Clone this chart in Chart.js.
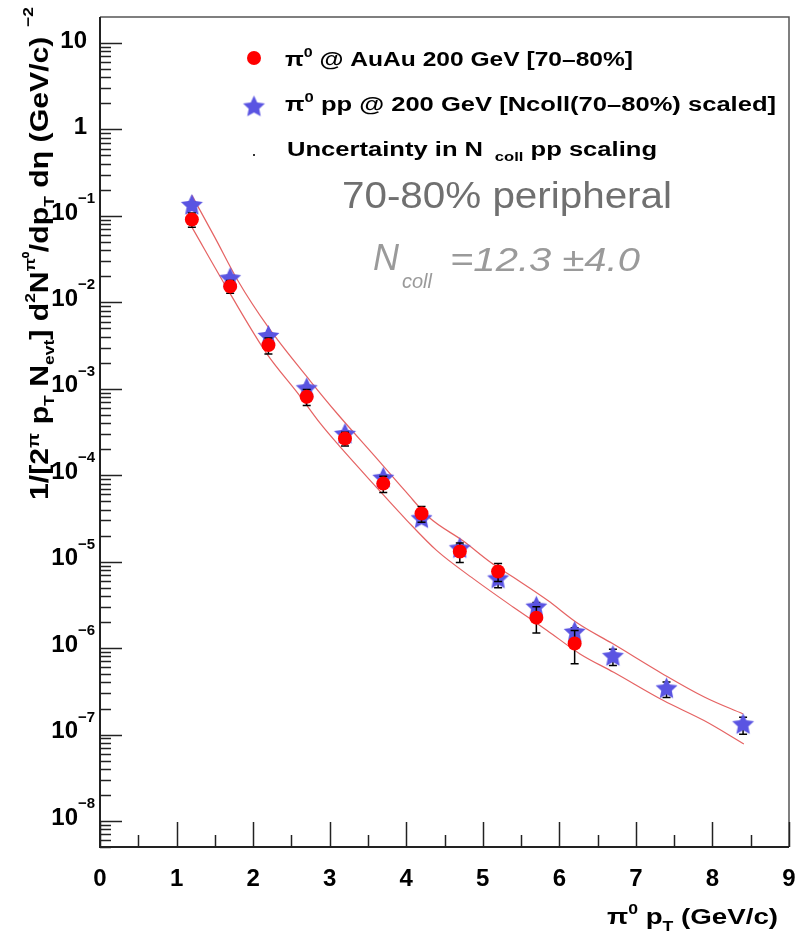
<!DOCTYPE html>
<html><head><meta charset="utf-8">
<script src="https://cdn.jsdelivr.net/npm/chart.js@4"></script>
<style>html,body{margin:0;padding:0;background:#fff}#wrap{width:803px;height:940px;position:relative}</style>
</head><body><div id="wrap"><canvas id="c" width="803" height="940"></canvas></div>
<script>
// ---------------- data ----------------
const ptAuAu    = [1.2, 1.7, 2.2, 2.7, 3.2, 3.7, 4.2, 4.7, 5.2, 5.7, 6.2];
const yieldAuAu = [0.091, 0.0153, 3.2e-3, 8.1e-4, 2.66e-4, 8.0e-5, 3.6e-5, 1.31e-5, 7.7e-6, 2.25e-6, 1.13e-6];
const errAuAu   = [0.017, 0.0026, 6.8e-4, 1.7e-4, 4.8e-5, 1.7e-5, 7.4e-6, 3.3e-6, 1.8e-6, 0.75e-6, 0.47e-6];

const ptPP      = [1.2, 1.7, 2.2, 2.7, 3.2, 3.7, 4.2, 4.7, 5.2, 5.7, 6.2, 6.7, 7.4, 8.4];
const yieldPP   = [0.132, 0.0188, 4.03e-3, 1.0e-3, 2.96e-4, 9.2e-5, 3.13e-5, 1.41e-5, 6.3e-6, 2.97e-6, 1.52e-6, 7.97e-7, 3.37e-7, 1.3e-7];
const errPP     = [0.012, 0.0017, 3.6e-4, 9e-5, 2.8e-5, 9e-6, 3.4e-6, 1.6e-6, 1.3e-6, 0.4e-6, 0.2e-6, 1.7e-7, 0.68e-7, 0.29e-7];

const bandUpX   = [1.2, 1.5, 1.8, 2.2, 2.75, 3.1, 3.6, 4.0, 4.3, 4.75, 5.1, 5.4, 5.85, 6.25, 6.7, 7.35, 7.9, 8.4];
const bandUpY   = [0.1726, 0.0564, 0.0179, 5.12e-3, 1.22e-3, 5.14e-4, 1.62e-4, 6.36e-5, 3.24e-5, 1.72e-5, 9.84e-6, 6.59e-6, 3.55e-6, 1.91e-6, 1.12e-6, 5.03e-7, 2.70e-7, 1.73e-7];
const bandLoX   = [1.2, 1.7, 2.18, 2.59, 2.88, 3.14, 3.57, 4.01, 4.4, 4.88, 5.4, 5.84, 6.27, 6.71, 7.36, 7.89, 8.41];
const bandLoY   = [0.0741, 0.0126, 2.54e-3, 8.75e-4, 3.94e-4, 2.11e-4, 7.95e-5, 2.99e-5, 1.34e-5, 6.32e-6, 2.97e-6, 1.60e-6, 8.57e-7, 5.25e-7, 2.47e-7, 1.45e-7, 7.79e-8];

const xTickLabels = ['0','1','2','3','4','5','6','7','8','9'];
const yDecades    = [1, 0, -1, -2, -3, -4, -5, -6, -7, -8];

const legendLabels = [
  '\u03C0\u2070 @ AuAu 200 GeV [70\u201380%]',
  '\u03C0\u2070 pp @ 200 GeV [Ncoll(70\u201380%) scaled]',
  'Uncertainty in N coll pp scaling'
];

// ---------------- styling helpers ----------------
const FAM = '"Liberation Sans", Arial, Helvetica, sans-serif';
const RED = '#ff0000';
const BLUE = 'rgb(90,84,226)';
const BAND = 'rgba(225,70,70,0.85)';

function makeStar(r, color){
  const s = Math.ceil(2*r+2);
  const c = document.createElement('canvas'); c.width = s; c.height = s;
  const g = c.getContext('2d'); g.fillStyle = color; g.beginPath();
  for (let i=0;i<10;i++){
    const rr = (i%2) ? r*0.48 : r;
    const a = -Math.PI/2 + i*Math.PI/5;
    g.lineTo(s/2 + rr*Math.cos(a), s/2 + rr*Math.sin(a));
  }
  g.closePath(); g.fill();
  return c;
}
const starImg = makeStar(11.5, BLUE);

function fontStr(s){ return (s.it?'italic ':'') + (s.b===false?'':'bold ') + s.sz + 'px ' + FAM; }
function richWidth(ctx, segs){ let w=0; for(const s of segs){ ctx.font=fontStr(s); w+=ctx.measureText(s.t).width; } return w; }
function drawRich(ctx, segs, x, y, targetW, color){
  const w = richWidth(ctx, segs);
  const sx = targetW ? targetW / w : 1;
  ctx.save(); ctx.translate(x, y); ctx.scale(sx, 1);
  ctx.textAlign='left'; ctx.textBaseline='alphabetic';
  let cx = 0;
  for (const s of segs){
    ctx.font = fontStr(s); ctx.fillStyle = s.c || color || '#000';
    ctx.fillText(s.t, cx, s.dy || 0);
    cx += ctx.measureText(s.t).width;
  }
  ctx.restore();
}

function drawErrors(chart, xs, ys, es){
  const sx = chart.scales.x, sy = chart.scales.y, ctx = chart.ctx;
  ctx.save(); ctx.strokeStyle = '#000'; ctx.lineWidth = 1.5;
  for (let i=0;i<xs.length;i++){
    const px = sx.getPixelForValue(xs[i]);
    const p1 = sy.getPixelForValue(ys[i] + es[i]);
    const p2 = sy.getPixelForValue(Math.max(ys[i] - es[i], 1e-12));
    ctx.beginPath();
    ctx.moveTo(px, p1); ctx.lineTo(px, p2);
    ctx.moveTo(px-4, p1); ctx.lineTo(px+4, p1);
    ctx.moveTo(px-4, p2); ctx.lineTo(px+4, p2);
    ctx.stroke();
  }
  ctx.restore();
}

const rootPlugin = {
  id: 'rootStyle',
  beforeDatasetDraw(chart, args){
    if (args.index === 0) drawErrors(chart, ptAuAu, yieldAuAu, errAuAu);
    if (args.index === 1) drawErrors(chart, ptPP, yieldPP, errPP);
  },
  afterDraw(chart){
    const ctx = chart.ctx, a = chart.chartArea, sx = chart.scales.x, sy = chart.scales.y;
    ctx.save();
    // frame
    ctx.strokeStyle = '#555'; ctx.lineWidth = 1.5;
    ctx.beginPath(); ctx.moveTo(a.left, a.top); ctx.lineTo(a.right, a.top); ctx.lineTo(a.right, a.bottom); ctx.stroke();
    ctx.strokeStyle = '#222'; ctx.lineWidth = 2;
    ctx.beginPath(); ctx.moveTo(a.left, a.top); ctx.lineTo(a.left, a.bottom); ctx.lineTo(a.right, a.bottom); ctx.stroke();
    // y ticks
    ctx.lineWidth = 1.5; ctx.strokeStyle = '#222';
    for (let k=-9;k<=1;k++){
      for (let m=1;m<=9;m++){
        const v = m*Math.pow(10,k);
        if (v < sy.min || v >= sy.max) continue;
        const py = Math.round(sy.getPixelForValue(v)) + 0.5;
        const len = (m===1) ? 22 : 11;
        ctx.beginPath(); ctx.moveTo(a.left, py); ctx.lineTo(a.left+len, py); ctx.stroke();
      }
    }
    // x ticks
    for (let i=0;i<=18;i++){
      const v = i*0.5; const px = Math.round(sx.getPixelForValue(v)) + 0.5;
      const len = (i%2===0) ? 25 : 12;
      ctx.beginPath(); ctx.moveTo(px, a.bottom); ctx.lineTo(px, a.bottom-len); ctx.stroke();
    }
    // x tick labels
    ctx.fillStyle = '#000'; ctx.font = 'bold 24px ' + FAM; ctx.textAlign='center'; ctx.textBaseline='middle';
    xTickLabels.forEach((t,i)=>{ ctx.fillText(t, sx.getPixelForValue(i), 879); });
    // y tick labels
    yDecades.forEach(k=>{
      const py = sy.getPixelForValue(Math.pow(10,k));
      ctx.textBaseline='middle';
      if (k === 1 || k === 0){
        ctx.textAlign='right'; ctx.font='bold 24px ' + FAM;
        ctx.fillText(k===1?'10':'1', 87, py-2);
      } else {
        ctx.textAlign='right'; ctx.font='bold 24px ' + FAM;
        ctx.fillText('10', 78, py-3);
        ctx.textAlign='left'; ctx.font='bold 15px ' + FAM;
        ctx.fillText('\u2212' + (-k), 78, py-17);
      }
    });
    // x axis title
    drawRich(ctx, [
      {t:'\u03C0', sz:22}, {t:'0', sz:14, dy:-10}, {t:' p', sz:22}, {t:'T', sz:14, dy:7}, {t:' (GeV/c)', sz:22}
    ], 607, 924, 171);
    // y axis title (rotated)
    ctx.save(); ctx.translate(48, 500); ctx.rotate(-Math.PI/2);
    drawRich(ctx, [
      {t:'1/[2', sz:26}, {t:'\u03C0', sz:17, dy:-9}, {t:' p', sz:26}, {t:'T', sz:15, dy:6},
      {t:' N', sz:26}, {t:'evt', sz:15, dy:6}, {t:'] d', sz:26}, {t:'2', sz:15, dy:-13},
      {t:'N', sz:26}, {t:'\u03C0\u2070', sz:15, dy:-13}, {t:'/dp', sz:26}, {t:'T', sz:15, dy:6},
      {t:' d\u03B7 (GeV/c)', sz:26}, {t:'  \u22122', sz:15, dy:-15}
    ], 0, 0, 493);
    ctx.restore();
    // legend
    ctx.fillStyle = RED; ctx.beginPath(); ctx.arc(254, 58, 7, 0, Math.PI*2); ctx.fill();
    ctx.drawImage(starImg, 254 - starImg.width/2, 107 - starImg.height/2);
    ctx.fillStyle = '#333'; ctx.fillRect(253, 154, 2, 2);
    const L0 = legendLabels[0], L1 = legendLabels[1];
    drawRich(ctx, [{t:'\u03C0', sz:20}, {t:'0', sz:13, dy:-9}, {t:L0.slice(2), sz:20}], 285, 66, 348);
    drawRich(ctx, [{t:'\u03C0', sz:20}, {t:'0', sz:13, dy:-9}, {t:L1.slice(2), sz:20}], 285, 111, 491);
    drawRich(ctx, [{t:'Uncertainty in N ', sz:20}, {t:' coll', sz:13, dy:5}, {t:' pp scaling', sz:20}], 287, 156, 370);
    // annotations
    drawRich(ctx, [{t:'70-80% peripheral', sz:36, b:false}], 342, 208, 330, '#707070');
    drawRich(ctx, [{t:'N', sz:36, b:false, it:true}], 373, 270, 0, '#9a9a9a');
    drawRich(ctx, [{t:'coll', sz:20, b:false, it:true}], 402, 288, 0, '#9a9a9a');
    drawRich(ctx, [{t:'=12.3 \u00B14.0', sz:34, b:false, it:true}], 450, 271, 190, '#9a9a9a');
    ctx.restore();
  }
};

const toPts = (xs, ys) => xs.map((x,i)=>({x, y: ys[i]}));

new Chart(document.getElementById('c'), {
  type: 'scatter',
  data: {
    datasets: [
      { label: legendLabels[0], data: toPts(ptAuAu, yieldAuAu), pointStyle:'circle', pointRadius:7,
        backgroundColor: RED, borderColor: RED, borderWidth:0, order: 1 },
      { label: legendLabels[1], data: toPts(ptPP, yieldPP), pointStyle: starImg, pointRadius: 12,
        backgroundColor: BLUE, borderColor: BLUE, order: 2 },
      { label: 'upper', data: toPts(bandUpX, bandUpY), showLine:true, pointRadius:0, borderColor: BAND,
        borderWidth:1.2, cubicInterpolationMode:'monotone', order: 3 },
      { label: 'lower', data: toPts(bandLoX, bandLoY), showLine:true, pointRadius:0, borderColor: BAND,
        borderWidth:1.2, cubicInterpolationMode:'monotone', order: 4 }
    ]
  },
  options: {
    responsive: false, animation: false, devicePixelRatio: 1,
    layout: { padding: { left: 100, top: 17, right: 14, bottom: 93 } },
    scales: {
      x: { type:'linear', min:0, max:9, display:false, bounds:'data' },
      y: { type:'logarithmic', min:5e-9, max:20, display:false, bounds:'data' }
    },
    plugins: { legend: { display:false }, tooltip: { enabled:false } }
  },
  plugins: [rootPlugin]
});
</script>
</body></html>
